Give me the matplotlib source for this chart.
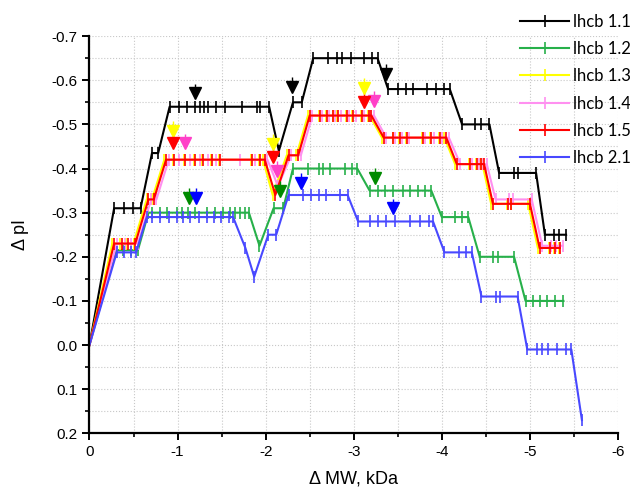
import matplotlib.pyplot as plt
from matplotlib.ticker import MultipleLocator, FormatStrFormatter

# series data (delta MW, delta pI)
x_11 = [0, -0.28, -0.39, -0.49, -0.58, -0.71, -0.78,
        -0.91, -1.02, -1.11, -1.20, -1.25, -1.30, -1.35, -1.44, -1.54, -1.73, -1.90, -1.94, -2.04,
        -2.15, -2.31, -2.41,
        -2.54, -2.71, -2.81, -2.87, -2.97, -3.12, -3.21, -3.27,
        -3.39, -3.50, -3.59, -3.67, -3.83, -3.93, -4.02, -4.09,
        -4.23, -4.38, -4.45, -4.54,
        -4.65, -4.82, -4.87, -5.07,
        -5.17, -5.27, -5.33, -5.41]
y_11 = [0, -0.31, -0.31, -0.31, -0.31, -0.435, -0.435,
        -0.54, -0.54, -0.54, -0.54, -0.54, -0.54, -0.54, -0.54, -0.54, -0.54, -0.54, -0.54, -0.54,
        -0.44, -0.55, -0.55,
        -0.65, -0.65, -0.65, -0.65, -0.65, -0.65, -0.65, -0.65,
        -0.58, -0.58, -0.58, -0.58, -0.58, -0.58, -0.58, -0.58,
        -0.50, -0.50, -0.50, -0.50,
        -0.39, -0.39, -0.39, -0.39,
        -0.25, -0.25, -0.25, -0.25]

x_12 = [0, -0.30, -0.38, -0.47, -0.55,
        -0.67, -0.71, -0.80, -0.88, -0.99, -1.05, -1.12, -1.20, -1.33, -1.42, -1.52, -1.59, -1.65, -1.71, -1.77, -1.81,
        -1.93, -2.09, -2.20,
        -2.31, -2.48, -2.60, -2.65, -2.73, -2.90, -2.98, -3.04,
        -3.18, -3.28, -3.35, -3.44, -3.56, -3.64, -3.73, -3.81, -3.88,
        -4.00, -4.15, -4.23, -4.30,
        -4.43, -4.58, -4.64, -4.82,
        -4.95, -5.04, -5.11, -5.19, -5.28, -5.38]
y_12 = [0, -0.215, -0.215, -0.215, -0.215,
        -0.30, -0.30, -0.30, -0.30, -0.30, -0.30, -0.30, -0.30, -0.30, -0.30, -0.30, -0.30, -0.30, -0.30, -0.30, -0.30,
        -0.225, -0.31, -0.31,
        -0.40, -0.40, -0.40, -0.40, -0.40, -0.40, -0.40, -0.40,
        -0.35, -0.35, -0.35, -0.35, -0.35, -0.35, -0.35, -0.35, -0.35,
        -0.29, -0.29, -0.29, -0.29,
        -0.20, -0.20, -0.20, -0.20,
        -0.10, -0.10, -0.10, -0.10, -0.10, -0.10]

x_13 = [0, -0.26, -0.35, -0.42, -0.50, -0.65, -0.71,
        -0.85, -0.95, -1.07, -1.19, -1.28, -1.38, -1.47, -1.83, -1.93, -1.97,
        -2.08, -2.24, -2.35,
        -2.48, -2.60, -2.69, -2.76, -2.81, -2.91, -2.98, -3.08, -3.16, -3.18,
        -3.32, -3.44, -3.51, -3.59, -3.78, -3.87, -3.97, -4.03,
        -4.15, -4.31, -4.39, -4.43, -4.46,
        -4.56, -4.74, -4.78, -4.98,
        -5.09, -5.22, -5.27, -5.33]
y_13 = [0, -0.23, -0.23, -0.23, -0.23, -0.33, -0.33,
        -0.42, -0.42, -0.42, -0.42, -0.42, -0.42, -0.42, -0.42, -0.42, -0.42,
        -0.34, -0.43, -0.43,
        -0.52, -0.52, -0.52, -0.52, -0.52, -0.52, -0.52, -0.52, -0.52, -0.52,
        -0.47, -0.47, -0.47, -0.47, -0.47, -0.47, -0.47, -0.47,
        -0.41, -0.41, -0.41, -0.41, -0.41,
        -0.32, -0.32, -0.32, -0.32,
        -0.22, -0.22, -0.22, -0.22]

x_14 = [0, -0.31, -0.40, -0.47, -0.55, -0.70, -0.76,
        -0.90, -1.02, -1.14, -1.25, -1.35, -1.44, -1.71, -1.88, -2.02,
        -2.14, -2.29, -2.40,
        -2.53, -2.64, -2.72, -2.79, -2.85, -2.95, -3.02, -3.12, -3.20, -3.23,
        -3.37, -3.47, -3.55, -3.63, -3.81, -3.91, -4.00, -4.08,
        -4.21, -4.34, -4.42, -4.47, -4.51,
        -4.61, -4.76, -4.81, -5.02,
        -5.14, -5.24, -5.30, -5.37]
y_14 = [0, -0.23, -0.23, -0.23, -0.23, -0.33, -0.33,
        -0.42, -0.42, -0.42, -0.42, -0.42, -0.42, -0.42, -0.42, -0.42,
        -0.36, -0.43, -0.43,
        -0.52, -0.52, -0.52, -0.52, -0.52, -0.52, -0.52, -0.52, -0.52, -0.52,
        -0.47, -0.47, -0.47, -0.47, -0.47, -0.47, -0.47, -0.47,
        -0.41, -0.41, -0.41, -0.41, -0.41,
        -0.33, -0.33, -0.33, -0.33,
        -0.225, -0.225, -0.225, -0.225]

x_15 = [0, -0.28, -0.37, -0.44, -0.52, -0.67, -0.73,
        -0.87, -0.96, -1.08, -1.20, -1.29, -1.39, -1.48, -1.84, -1.94, -1.99,
        -2.11, -2.26, -2.37,
        -2.50, -2.62, -2.70, -2.77, -2.82, -2.92, -2.99, -3.09, -3.17, -3.20,
        -3.34, -3.45, -3.52, -3.60, -3.79, -3.88, -3.98, -4.05,
        -4.17, -4.32, -4.40, -4.44, -4.48,
        -4.58, -4.75, -4.79, -5.00,
        -5.11, -5.23, -5.28, -5.34]
y_15 = y_13[:17] + [-0.34, -0.43, -0.43] + y_13[20:]

x_21 = [0, -0.31, -0.39, -0.47, -0.53,
        -0.65, -0.71, -0.80, -0.90, -0.99, -1.06, -1.14, -1.24, -1.33, -1.41, -1.49, -1.58, -1.63,
        -1.77, -1.87, -2.03, -2.12,
        -2.26, -2.42, -2.52, -2.60, -2.69, -2.84, -2.93,
        -3.05, -3.18, -3.28, -3.37, -3.47, -3.64, -3.75, -3.85, -3.90,
        -4.03, -4.19, -4.27, -4.34,
        -4.45, -4.61, -4.66, -4.86,
        -4.97, -5.08, -5.14, -5.20, -5.31, -5.41, -5.47,
        -5.59]
y_21 = [0, -0.21, -0.21, -0.21, -0.21,
        -0.29, -0.29, -0.29, -0.29, -0.29, -0.29, -0.29, -0.29, -0.29, -0.29, -0.29, -0.29, -0.29,
        -0.22, -0.155, -0.25, -0.25,
        -0.34, -0.34, -0.34, -0.34, -0.34, -0.34, -0.34,
        -0.28, -0.28, -0.28, -0.28, -0.28, -0.28, -0.28, -0.28, -0.28,
        -0.21, -0.21, -0.21, -0.21,
        -0.11, -0.11, -0.11, -0.11,
        0.01, 0.01, 0.01, 0.01, 0.01, 0.01, 0.01,
        0.17]

# triangle markers (x, y) per series
tri_x = {'k': [-1.20, -2.30, -3.37], 'y': [-0.95, -2.08, -3.12], 'm': [-1.09, -2.13, -3.23],
         'r': [-0.95, -2.08, -3.12], 'g': [-1.13, -2.16, -3.24], 'b': [-1.21, -2.40, -3.44]}
tri_y = {'k': [-0.57, -0.585, -0.615], 'y': [-0.486, -0.456, -0.582], 'm': [-0.457, -0.395, -0.553],
         'r': [-0.457, -0.427, -0.551], 'g': [-0.334, -0.349, -0.379], 'b': [-0.334, -0.367, -0.310]}
tri_col = {'k': '#000000', 'y': '#ffff00', 'm': '#ff40c8', 'r': '#ff0000', 'g': '#008a00', 'b': '#0000ff'}

labels = ['lhcb 1.1', 'lhcb 1.2', 'lhcb 1.3', 'lhcb 1.4', 'lhcb 1.5', 'lhcb 2.1']
colors = ['#000000', '#27b04a', '#ffff00', '#ff90f0', '#ff0000', '#4848ff']
xs = [x_11, x_12, x_13, x_14, x_15, x_21]
ys = [y_11, y_12, y_13, y_14, y_15, y_21]

plt.rcParams['font.family'] = ['Liberation Sans', 'DejaVu Sans']

fig = plt.figure(figsize=(6.3, 4.88), dpi=100)
ax = fig.add_axes([0.142, 0.112, 0.839, 0.814])

for x, y, c, lab in zip(xs, ys, colors, labels):
    ax.plot(x, y, color=c, lw=1.5, marker='|', ms=9, mew=1.2, label=lab)

for key in ['k', 'y', 'm', 'r', 'g', 'b']:
    ax.errorbar(tri_x[key], tri_y[key], yerr=[[0.022] * 3, [0] * 3], fmt='v', color=tri_col[key],
                ms=8.5, elinewidth=1.0, capsize=0, zorder=5)

ax.set_xlim(0, -6)
ax.set_ylim(0.2, -0.7)
ax.xaxis.set_major_locator(MultipleLocator(1))
ax.xaxis.set_minor_locator(MultipleLocator(0.5))
ax.yaxis.set_major_locator(MultipleLocator(0.1))
ax.yaxis.set_minor_locator(MultipleLocator(0.05))
ax.yaxis.set_major_formatter(FormatStrFormatter('%.1f'))
ax.xaxis.set_major_formatter(FormatStrFormatter('%d'))

ax.grid(True, which='both', ls=':', color='#c8c8c8', lw=0.8)
ax.spines['top'].set_visible(False)
ax.spines['right'].set_visible(False)
ax.spines['left'].set_linewidth(1.6)
ax.spines['bottom'].set_linewidth(1.6)
ax.tick_params(which='major', direction='out', length=5, width=1.4, labelsize=11)
ax.tick_params(which='minor', direction='out', length=3, width=1.2)

ax.set_xlabel('Δ MW, kDa', fontsize=13, labelpad=8)
ax.set_ylabel('Δ pI', fontsize=13, labelpad=16)

fig.legend(loc='upper left', bbox_to_anchor=(0.826, 0.972), frameon=False,
           prop={'family': 'Lato', 'size': 12}, handlelength=2.9, handletextpad=0.25,
           labelspacing=0.68, borderpad=0, borderaxespad=0)

fig.savefig('out.png', dpi=100)
